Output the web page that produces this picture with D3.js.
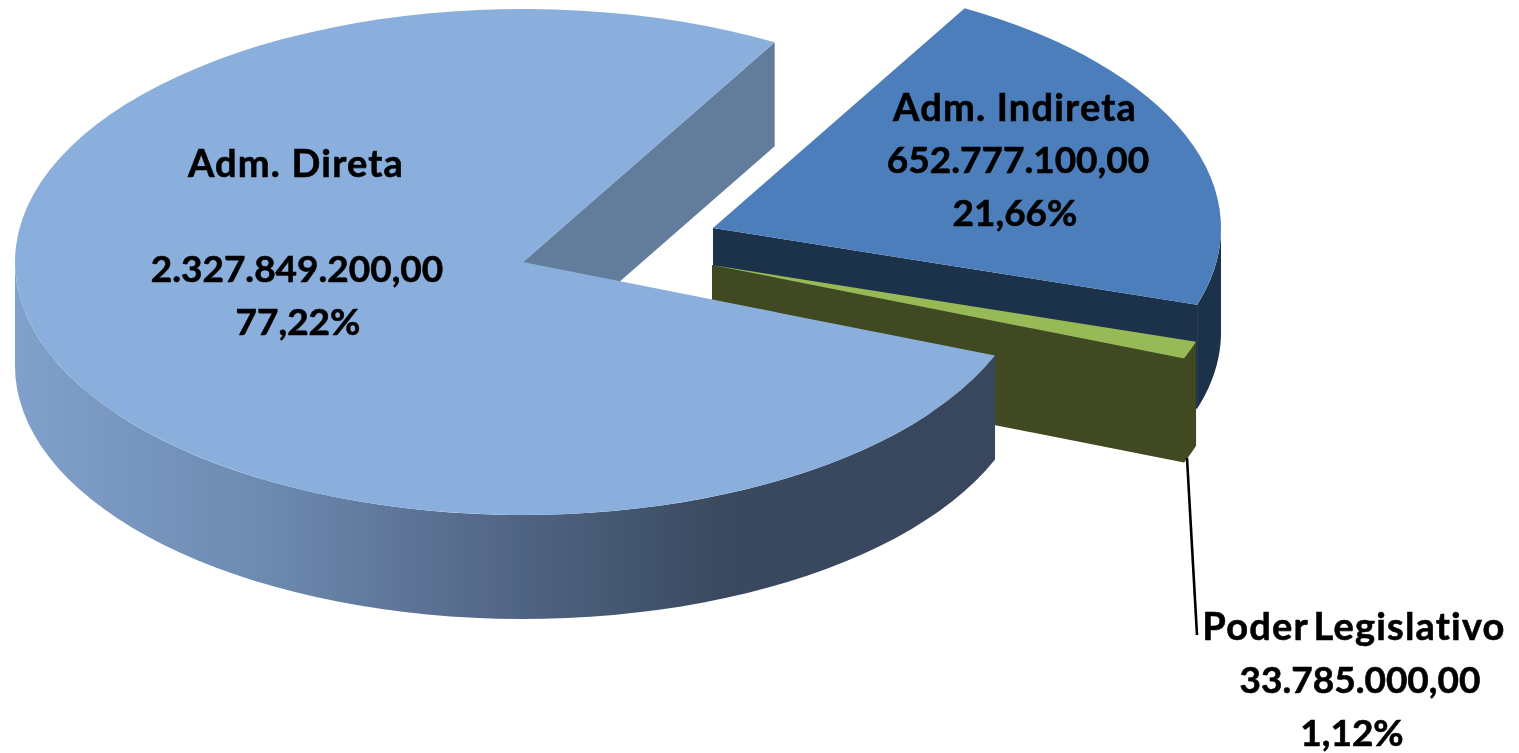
<!DOCTYPE html>
<html>
<head>
<meta charset="utf-8">
<script src="https://cdn.jsdelivr.net/npm/d3@7"></script>
<style>
  html, body { margin: 0; padding: 0; background: #fff; overflow: hidden; }
  text { font-family: Lato, "Open Sans", sans-serif; font-weight: 700; fill: #000; stroke: #000; stroke-width: 0.6px; }
</style>
</head>
<body>
<div id="chart"></div>
<script>
// DATA //
const categories = ["Adm. Indireta", "Poder Legislativo", "Adm. Direta"];
const values = [652777100, 33785000, 2327849200];
const valueLabels = ["652.777.100,00", "33.785.000,00", "2.327.849.200,00"];
const percentLabels = ["21,66%", "1,12%", "77,22%"];

// DIMENSIONS //
const width = 1519, height = 753;
const rx = 508, ry = 253, depth = 104;
const rot = 29.7 * Math.PI / 180; // first slice starts here, clockwise from 12 o'clock

// where each exploded slice has its apex, same order as categories
const apex = [[713, 228], [712, 265], [523, 262]];
const topColors = ["#4c7eba", "#97b956", "#8bafdc"];
const wallColors = ["#1d304c", "#3f4a21", "url(#wallGrad)"];

const svg = d3.select("#chart").append("svg")
    .attr("width", width)
    .attr("height", height);

const defs = svg.append("defs");

// outer wall of big slice gets darker going right
const grad = defs.append("linearGradient")
    .attr("id", "wallGrad")
    .attr("gradientUnits", "userSpaceOnUse")
    .attr("x1", 15).attr("x2", 992).attr("y1", 0).attr("y2", 0);
[[0, "#80a1cb"], [0.25, "#6d8bb1"], [0.48, "#54698a"], [0.72, "#3a4a60"], [1, "#37465c"]]
    .forEach(s => grad.append("stop").attr("offset", s[0]).attr("stop-color", s[1]));

// reference is an enlarged bitmap, a little soft
defs.append("filter").attr("id", "soft")
    .append("feGaussianBlur").attr("stdDeviation", 0.6);

const slices = d3.pie().sort(null)
    .startAngle(rot)
    .endAngle(rot + 2 * Math.PI)(values);

const arc = d3.arc().innerRadius(0).outerRadius(rx);
const line = d3.line();

// point on the rim of slice i, angle clockwise from 12 o'clock
function rim(i, a, drop) {
    return [apex[i][0] + rx * Math.sin(a), apex[i][1] - ry * Math.cos(a) + drop];
}

// rim wall between two angles
function outerWall(i, a0, a1) {
    const ang = d3.range(0, 61).map(k => a0 + (a1 - a0) * k / 60);
    const pts = ang.map(a => rim(i, a, 0)).concat(ang.slice().reverse().map(a => rim(i, a, depth)));
    return line(pts) + "Z";
}

// flat wall under a radial edge
function sideWall(i, a) {
    const c = apex[i];
    return line([c, rim(i, a, 0), rim(i, a, depth), [c[0], c[1] + depth]]) + "Z";
}

const g = svg.append("g").attr("filter", "url(#soft)");

function drawTop(i) {
    g.append("path")
        .attr("d", arc(slices[i]))
        .attr("transform", "translate(" + apex[i][0] + "," + apex[i][1] + ") scale(1," + (ry / rx) + ")")
        .attr("fill", topColors[i]);
}

// painter order, back to front

// Adm. Indireta
g.append("path").attr("d", outerWall(0, Math.PI / 2, slices[0].endAngle)).attr("fill", wallColors[0]);
g.append("path").attr("d", sideWall(0, slices[0].endAngle)).attr("fill", wallColors[0]);
drawTop(0);

// Poder Legislativo
g.append("path").attr("d", outerWall(1, slices[1].startAngle, slices[1].endAngle)).attr("fill", wallColors[1]);
g.append("path").attr("d", sideWall(1, slices[1].endAngle)).attr("fill", wallColors[1]);
drawTop(1);

// Adm. Direta
g.append("path").attr("d", sideWall(2, slices[2].endAngle)).attr("fill", "#627b9c");
g.append("path").attr("d", outerWall(2, slices[2].startAngle, 1.5 * Math.PI)).attr("fill", wallColors[2]);
drawTop(2);

// LEADER LINE //
g.append("line")
    .attr("x1", 1187).attr("y1", 458)
    .attr("x2", 1197).attr("y2", 635)
    .attr("stroke", "#000")
    .attr("stroke-width", 2.6);

// LABELS //
// x, baseline, text, size, letter spacing, word spacing
const labelLines = [
    [1015, 121, categories[0], 38, 1.2, 0],
    [1018, 173, valueLabels[0], 37, 0, 0],
    [1015, 226, percentLabels[0], 37, 0, 0],
    [1354, 640, categories[1], 38, 1.2, -5],
    [1360, 693, valueLabels[1], 37, 0, 0],
    [1352, 746, percentLabels[1], 37, 0, 0],
    [296, 177, categories[2], 38, 1.2, 0],
    [297, 282, valueLabels[2], 37, 0, 0],
    [298, 335, percentLabels[2], 37, 0, 0]
];
labelLines.forEach(l => {
    svg.append("text")
        .attr("x", l[0])
        .attr("y", l[1])
        .attr("text-anchor", "middle")
        .style("font-size", l[3] + "px")
        .style("letter-spacing", l[4] + "px")
        .style("word-spacing", l[5] + "px")
        .text(l[2]);
});
</script>
</body>
</html>
